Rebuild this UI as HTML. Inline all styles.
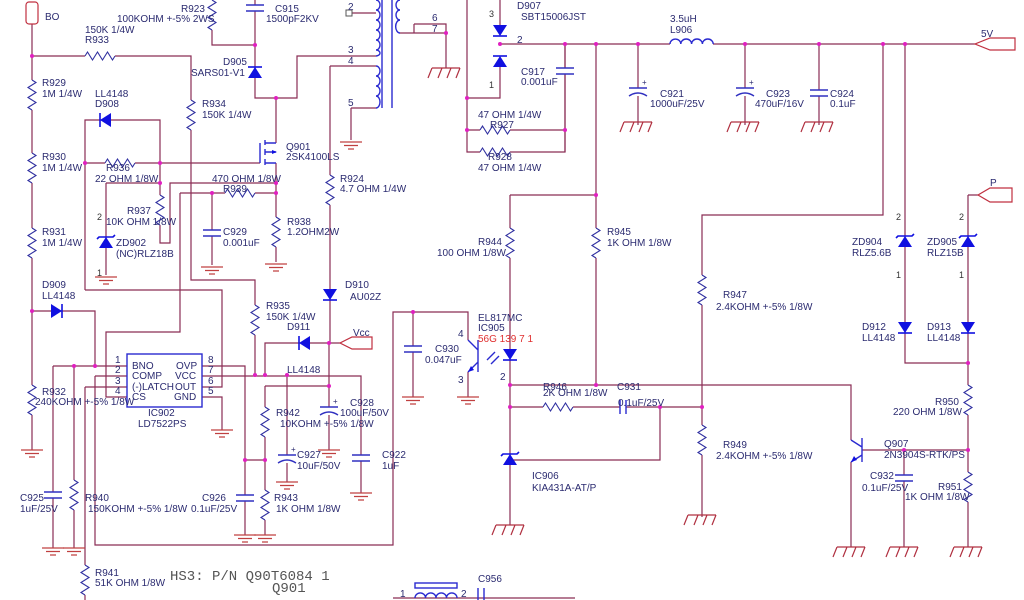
<!DOCTYPE html>
<html><head><meta charset="utf-8"><style>
html,body{margin:0;padding:0;background:#fff}
svg{display:block}
text{font-family:"Liberation Sans",sans-serif;font-size:10px;fill:#2b2b70}
.m{font-family:"Liberation Mono",monospace;font-size:14px;fill:#555}
.r{fill:#e03030}
.s{font-size:9px;fill:#333}
</style></head><body>
<svg width="1024" height="600" viewBox="0 0 1024 600" xmlns="http://www.w3.org/2000/svg">
<defs>
<symbol id="rv" overflow="visible"><rect x="-5" y="0" width="10" height="30" fill="#fff"/><path d="M0,0 l4,2.5 l-8,5 l8,5 l-8,5 l8,5 l-8,5 l4,2.5" fill="none" stroke="#3030a0" stroke-width="1.1"/></symbol>
<symbol id="rh" overflow="visible"><rect x="0" y="-5" width="30" height="10" fill="#fff"/><path d="M0,0 l2.5,-4 l5,8 l5,-8 l5,8 l5,-8 l5,8 l2.5,-4" fill="none" stroke="#3030a0" stroke-width="1.1"/></symbol>
<symbol id="g" overflow="visible"><path d="M-11,0 h22 M-7,3.5 h14 M-3,7 h6" stroke="#c04040" stroke-width="1.2"/></symbol>
<symbol id="gh" overflow="visible"><path d="M-14,0 h28 M-14,0 l-4,10 M-4,0 l-4,10 M5,0 l-4,10 M14,0 l-4,10" stroke="#b03040" stroke-width="1.2" fill="none"/></symbol>
<symbol id="cv" overflow="visible"><rect x="-9" y="0" width="18" height="6" fill="#fff"/><path d="M-9,0 h18 M-9,6 h18" stroke="#3030c0" stroke-width="1.6"/></symbol>
<symbol id="ce" overflow="visible"><rect x="-9" y="0" width="18" height="8" fill="#fff"/><path d="M-9,0 h18 M-9,8 q9,-6 18,0" stroke="#3030c0" stroke-width="1.4" fill="none"/><text x="4" y="-3" style="font-size:8px">+</text></symbol>
<symbol id="dd" overflow="visible"><path d="M-7,0 h14 l-7,11 z" fill="#1010e0"/><path d="M-7,11 h14" stroke="#1010e0" stroke-width="1.6"/></symbol>
<symbol id="du" overflow="visible"><path d="M-7,11 h14 l-7,-11 z" fill="#1010e0"/><path d="M-7,0 h14" stroke="#1010e0" stroke-width="1.6"/></symbol>
<symbol id="zu" overflow="visible"><path d="M-7,11 h14 l-7,-11 z" fill="#1010e0"/><path d="M-9,2 l2,-2 h14 l2,-2" stroke="#1010e0" stroke-width="1.6" fill="none"/></symbol>
</defs>
<g stroke="#8a2d55" stroke-width="1.2" fill="none">
<path d="M32,24 V450"/>
<path d="M32,56 H191 V280 H255 V375"/>
<path d="M212,0 V45 H255"/>
<path d="M255,0 V98 H297 V56 H376"/>
<path d="M276,98 V143 M276,163 V262"/>
<path d="M330,66 H376 M330,66 V343 H340 M329,343 V450"/>
<path d="M351,108 H376 M351,108 V140"/>
<path d="M350,13 H376"/>
<path d="M414,24 H446 V68 M414,24 V33 M400,33 H446"/>
<path d="M85,290 H222 V387 H202"/>
<path d="M85,290 V120 H160 V163"/>
<path d="M85,163 H260"/>
<path d="M106,183 H160 M106,183 V275"/>
<path d="M160,163 V243 H170 V183 H276"/>
<path d="M180,193 H276 M180,193 V332 H106 V397 H127"/>
<path d="M212,193 V265"/>
<path d="M32,311 H95 V366"/>
<path d="M53,366 H127 M53,366 V548 M74,366 V548"/>
<path d="M95,376 H127 M95,376 V545 H393 V312 H468 V340"/>
<path d="M85,387 H127 M85,387 V600"/>
<path d="M202,366 H245 V535"/>
<path d="M202,376 H361 V493"/>
<path d="M202,397 H222 V430"/>
<path d="M265,375 V343 H300 M310,343 H329"/>
<path d="M265,386 H329 M265,386 V535"/>
<path d="M245,460 H265"/>
<path d="M287,375 V482"/>
<path d="M413,312 V397"/>
<path d="M468,372 V397"/>
<path d="M467,0 V152 H565 V44 M467,130 H565 M467,98 H500 V66 M500,0 V25"/>
<path d="M500,44 H670 M713,44 H975"/>
<path d="M565,44 V152"/>
<path d="M638,44 V125 M745,44 V125 M819,44 V125"/>
<path d="M596,44 V385 M510,195 H596 M510,195 V525"/>
<path d="M883,44 V215 H702 V517"/>
<path d="M905,44 V363 H968 M968,195 H978 M968,195 V547"/>
<path d="M510,385 H851 V440 M851,462 V547"/>
<path d="M510,407 H620 M626,407 H702"/>
<path d="M660,407 V460 H510"/>
<path d="M862,450 H968 M904,450 V547"/>
<path d="M393,598 H575"/>
</g>
<g stroke="#c03040" stroke-width="1.2" fill="#fff">
<rect x="26" y="2" width="12" height="22" rx="3"/>
<path d="M372,337 H352 L340,343 L352,349 H372 Z"/>
<path d="M1015,38 H990 L975,44 L990,50 H1015 Z"/>
<path d="M1012,188 H990 L978,195 L990,202 H1012 Z"/>
</g>
<rect x="346" y="10" width="6" height="6" fill="#fff" stroke="#555"/>
<g stroke="#2a2ad0" stroke-width="1.4" fill="none">
<path d="M376,0 a4,5 0 0 1 0,10 a4,5 0 0 1 0,10 a4,5 0 0 1 0,10 a4,5 0 0 1 0,10 a4,5 0 0 1 0,10 a4,3 0 0 1 0,6"/>
<path d="M376,66 a4,5 0 0 1 0,10 a4,5 0 0 1 0,10 a4,5 0 0 1 0,10 a4,6 0 0 1 0,12"/>
<path d="M382,0 V108 M392,0 V108"/>
<path d="M400,0 a4,5 0 0 0 0,10 a4,5 0 0 0 0,10 a4,6 0 0 0 0,13"/>
<path d="M670,44 a5.4,5 0 0 1 10.8,0 a5.4,5 0 0 1 10.8,0 a5.4,5 0 0 1 10.8,0 a5.4,5 0 0 1 10.8,0"/>
<path d="M415,598 a5.2,5 0 0 1 10.5,0 a5.2,5 0 0 1 10.5,0 a5.2,5 0 0 1 10.5,0 a5.2,5 0 0 1 10.5,0"/>
<rect x="415" y="583" width="42" height="5"/>
<path d="M478,588 V600 M484,588 V600"/>
<path d="M260,143 V163 M265,140 V145 M265,149 V155 M265,159 V165 M265,143 H276 M265,163 H276 M265,152 H276"/>
<path d="M478,340 V372 M468,340 L478,350 M478,362 L468,372 M487,360 l8,-8 M491,364 l8,-8"/>
<path d="M862,438 V462 M851,440 L862,447 M862,455 L851,462"/>
<path d="M620,400 V414 M626,400 V414"/>
</g>
<polygon points="272,150 277,152 272,154" fill="#1010e0"/>
<polygon points="468,372 471,366 474,370" fill="#1010e0"/>
<polygon points="851,462 854,456 857,460" fill="#1010e0"/>
<rect x="127" y="354" width="75" height="53" fill="#fff" stroke="#2a2ad0" stroke-width="1.4"/>
<use href="#rv" x="32" y="80"/><use href="#rv" x="32" y="153"/><use href="#rv" x="32" y="228"/><use href="#rv" x="32" y="385"/>
<use href="#rh" x="85" y="56"/><use href="#rv" x="212" y="0"/><use href="#rv" x="191" y="100"/>
<use href="#rh" x="105" y="163"/><use href="#rv" x="160" y="195"/><use href="#rh" x="225" y="193"/>
<use href="#rv" x="276" y="217"/><use href="#rv" x="330" y="175"/><use href="#rv" x="255" y="305"/>
<use href="#rv" x="265" y="407"/><use href="#rv" x="265" y="490"/><use href="#rv" x="74" y="480"/><use href="#rv" x="85" y="565"/>
<use href="#rv" x="510" y="228"/><use href="#rv" x="596" y="228"/><use href="#rv" x="702" y="275"/><use href="#rv" x="702" y="425"/>
<use href="#rh" x="543" y="407"/><use href="#rh" x="480" y="130"/><use href="#rh" x="480" y="152"/>
<use href="#rv" x="968" y="385"/><use href="#rv" x="968" y="472"/>
<use href="#cv" x="255" y="5"/><use href="#cv" x="212" y="230"/><use href="#cv" x="53" y="492"/><use href="#cv" x="245" y="495"/>
<use href="#cv" x="361" y="455"/><use href="#cv" x="413" y="346"/><use href="#cv" x="565" y="68"/><use href="#cv" x="819" y="90"/><use href="#cv" x="904" y="475"/>
<use href="#ce" x="329" y="407"/><use href="#ce" x="287" y="455"/><use href="#ce" x="638" y="88"/><use href="#ce" x="745" y="88"/>
<use href="#du" x="255" y="67"/><use href="#dd" x="500" y="25"/><use href="#du" x="500" y="56"/><use href="#dd" x="330" y="289"/>
<use href="#dd" x="510" y="349"/><use href="#dd" x="905" y="322"/><use href="#dd" x="968" y="322"/>
<use href="#zu" x="106" y="237"/><use href="#zu" x="905" y="236"/><use href="#zu" x="968" y="236"/><use href="#zu" x="510" y="454"/>
<g transform="translate(111,120) rotate(90)"><use href="#dd" x="0" y="0"/></g>
<g transform="translate(51,311) rotate(-90)"><use href="#dd" x="0" y="0"/></g>
<g transform="translate(310,343) rotate(90)"><use href="#dd" x="0" y="0"/></g>
<use href="#g" x="32" y="450"/><use href="#g" x="351" y="142"/><use href="#g" x="106" y="277"/><use href="#g" x="212" y="267"/><use href="#g" x="276" y="264"/>
<use href="#g" x="222" y="430"/><use href="#g" x="53" y="548"/><use href="#g" x="74" y="548"/><use href="#g" x="245" y="535"/><use href="#g" x="265" y="535"/>
<use href="#g" x="287" y="482"/><use href="#g" x="329" y="450"/><use href="#g" x="361" y="493"/><use href="#g" x="413" y="397"/><use href="#g" x="468" y="397"/>
<use href="#gh" x="446" y="68"/><use href="#gh" x="638" y="122"/><use href="#gh" x="745" y="122"/><use href="#gh" x="819" y="122"/>
<use href="#gh" x="510" y="525"/><use href="#gh" x="702" y="515"/><use href="#gh" x="851" y="547"/><use href="#gh" x="904" y="547"/><use href="#gh" x="968" y="547"/>
<g fill="#e020c0">
<circle cx="32" cy="56" r="2"/><circle cx="255" cy="45" r="2"/><circle cx="276" cy="98" r="2"/><circle cx="85" cy="163" r="2"/><circle cx="160" cy="163" r="2"/>
<circle cx="160" cy="183" r="2"/><circle cx="276" cy="183" r="2"/><circle cx="276" cy="193" r="2"/><circle cx="212" cy="193" r="2"/><circle cx="32" cy="311" r="2"/>
<circle cx="74" cy="366" r="2"/><circle cx="95" cy="366" r="2"/><circle cx="255" cy="375" r="2"/><circle cx="265" cy="375" r="2"/><circle cx="287" cy="375" r="2"/>
<circle cx="329" cy="343" r="2"/><circle cx="329" cy="386" r="2"/><circle cx="245" cy="460" r="2"/><circle cx="265" cy="460" r="2"/><circle cx="413" cy="312" r="2"/>
<circle cx="500" cy="44" r="2"/><circle cx="565" cy="44" r="2"/><circle cx="596" cy="44" r="2"/><circle cx="638" cy="44" r="2"/><circle cx="745" cy="44" r="2"/>
<circle cx="819" cy="44" r="2"/><circle cx="883" cy="44" r="2"/><circle cx="905" cy="44" r="2"/><circle cx="467" cy="98" r="2"/><circle cx="467" cy="130" r="2"/><circle cx="565" cy="130" r="2"/>
<circle cx="446" cy="33" r="2"/><circle cx="596" cy="195" r="2"/><circle cx="510" cy="385" r="2"/><circle cx="596" cy="385" r="2"/><circle cx="510" cy="407" r="2"/>
<circle cx="660" cy="407" r="2"/><circle cx="702" cy="407" r="2"/><circle cx="968" cy="363" r="2"/><circle cx="968" cy="450" r="2"/><circle cx="904" cy="450" r="2"/>
</g>
<text x="45" y="20">BO</text>
<text x="181" y="12">R923</text><text x="117" y="22">100KOHM +-5% 2WS</text>
<text x="275" y="12">C915</text><text x="266" y="22">1500pF2KV</text>
<text x="85" y="33">150K 1/4W</text><text x="85" y="43">R933</text>
<text x="223" y="65">D905</text><text x="191" y="76">SARS01-V1</text>
<text x="42" y="86">R929</text><text x="42" y="97">1M 1/4W</text>
<text x="95" y="97">LL4148</text><text x="95" y="107">D908</text>
<text x="202" y="107">R934</text><text x="202" y="118">150K 1/4W</text>
<text x="286" y="150">Q901</text><text x="286" y="160">2SK4100LS</text>
<text x="42" y="160">R930</text><text x="42" y="171">1M 1/4W</text>
<text x="106" y="171">R936</text><text x="95" y="182">22 OHM 1/8W</text>
<text x="212" y="182">470 OHM 1/8W</text><text x="223" y="192">R939</text>
<text x="127" y="214">R937</text><text x="106" y="225">10K OHM 1/8W</text>
<text x="223" y="235">C929</text><text x="223" y="246">0.001uF</text>
<text x="287" y="225">R938</text><text x="287" y="235">1.2OHM2W</text>
<text x="340" y="182">R924</text><text x="340" y="192">4.7 OHM 1/4W</text>
<text x="116" y="246">ZD902</text><text x="116" y="257">(NC)RLZ18B</text>
<text class="s" x="97" y="220">2</text><text class="s" x="97" y="276">1</text>
<text x="42" y="235">R931</text><text x="42" y="246">1M 1/4W</text>
<text x="42" y="288">D909</text><text x="42" y="299">LL4148</text>
<text x="345" y="288">D910</text><text x="350" y="300">AU02Z</text>
<text x="266" y="309">R935</text><text x="266" y="320">150K 1/4W</text>
<text x="287" y="330">D911</text><text x="353" y="336">Vcc</text>
<text x="287" y="373">LL4148</text>
<text x="42" y="395">R932</text><text x="35" y="405">240KOHM +-5% 1/8W</text>
<text x="132" y="369">BNO</text><text x="132" y="379">COMP</text><text x="132" y="390">(-)LATCH</text><text x="132" y="400">CS</text>
<text x="176" y="369">OVP</text><text x="175" y="379">VCC</text><text x="175" y="390">OUT</text><text x="174" y="400">GND</text>
<text x="115" y="363">1</text><text x="115" y="373">2</text><text x="115" y="384">3</text><text x="115" y="394">4</text>
<text x="208" y="363">8</text><text x="208" y="373">7</text><text x="208" y="384">6</text><text x="208" y="394">5</text>
<text x="148" y="416">IC902</text><text x="138" y="427">LD7522PS</text>
<text x="350" y="406">C928</text><text x="340" y="416">100uF/50V</text>
<text x="276" y="416">R942</text><text x="280" y="427">10KOHM +-5% 1/8W</text>
<text x="297" y="458">C927</text><text x="297" y="469">10uF/50V</text>
<text x="382" y="458">C922</text><text x="382" y="469">1uF</text>
<text x="20" y="501">C925</text><text x="20" y="512">1uF/25V</text>
<text x="85" y="501">R940</text><text x="88" y="512">150KOHM +-5% 1/8W</text>
<text x="202" y="501">C926</text><text x="191" y="512">0.1uF/25V</text>
<text x="274" y="501">R943</text><text x="276" y="512">1K OHM 1/8W</text>
<text x="95" y="576">R941</text><text x="95" y="586">51K OHM 1/8W</text>
<text class="m" x="170" y="580">HS3:  P/N Q90T6084 1</text><text class="m" x="272" y="592">Q901</text>
<text x="400" y="597">1</text><text x="461" y="597">2</text><text x="478" y="582">C956</text>
<text x="348" y="10">2</text><text x="348" y="53">3</text><text x="348" y="64">4</text><text x="348" y="106">5</text>
<text x="432" y="21">6</text><text x="432" y="32">7</text>
<text x="478" y="321">EL817MC</text><text x="478" y="331">IC905</text><text class="r" x="478" y="342">56G 139  7  1</text>
<text x="458" y="337">4</text><text x="458" y="383">3</text><text x="500" y="380">2</text>
<text x="435" y="352">C930</text><text x="425" y="363">0.047uF</text>
<text x="543" y="390">R946</text><text x="543" y="396">2K OHM 1/8W</text>
<text x="617" y="390">C931</text><text x="618" y="406">0.1uF/25V</text>
<text x="532" y="479">IC906</text><text x="532" y="491">KIA431A-AT/P</text>
<text x="723" y="448">R949</text><text x="716" y="459">2.4KOHM +-5% 1/8W</text>
<text x="723" y="298">R947</text><text x="716" y="310">2.4KOHM +-5% 1/8W</text>
<text x="478" y="245">R944</text><text x="437" y="256">100 OHM 1/8W</text>
<text x="607" y="235">R945</text><text x="607" y="246">1K OHM 1/8W</text>
<text x="517" y="9">D907</text><text x="521" y="20">SBT15006JST</text>
<text x="517" y="43">2</text><text class="s" x="489" y="17">3</text><text class="s" x="489" y="88">1</text>
<text x="670" y="22">3.5uH</text><text x="670" y="33">L906</text>
<text x="981" y="37">5V</text>
<text x="521" y="75">C917</text><text x="521" y="85">0.001uF</text>
<text x="478" y="118">47 OHM 1/4W</text><text x="490" y="128">R927</text>
<text x="488" y="160">R928</text><text x="478" y="171">47 OHM 1/4W</text>
<text x="660" y="97">C921</text><text x="650" y="107">1000uF/25V</text>
<text x="766" y="97">C923</text><text x="755" y="107">470uF/16V</text>
<text x="830" y="97">C924</text><text x="830" y="107">0.1uF</text>
<text x="990" y="186">P</text>
<text class="s" x="896" y="220">2</text><text class="s" x="896" y="278">1</text>
<text class="s" x="959" y="220">2</text><text class="s" x="959" y="278">1</text>
<text x="852" y="245">ZD904</text><text x="852" y="256">RLZ5.6B</text>
<text x="927" y="245">ZD905</text><text x="927" y="256">RLZ15B</text>
<text x="862" y="330">D912</text><text x="862" y="341">LL4148</text>
<text x="927" y="330">D913</text><text x="927" y="341">LL4148</text>
<text x="935" y="405">R950</text><text x="893" y="415">220 OHM 1/8W</text>
<text x="884" y="447">Q907</text><text x="884" y="458">2N3904S-RTK/PS</text>
<text x="870" y="479">C932</text><text x="862" y="491">0.1uF/25V</text>
<text x="938" y="490">R951</text><text x="905" y="500">1K OHM 1/8W</text>
</svg>
</body></html>
